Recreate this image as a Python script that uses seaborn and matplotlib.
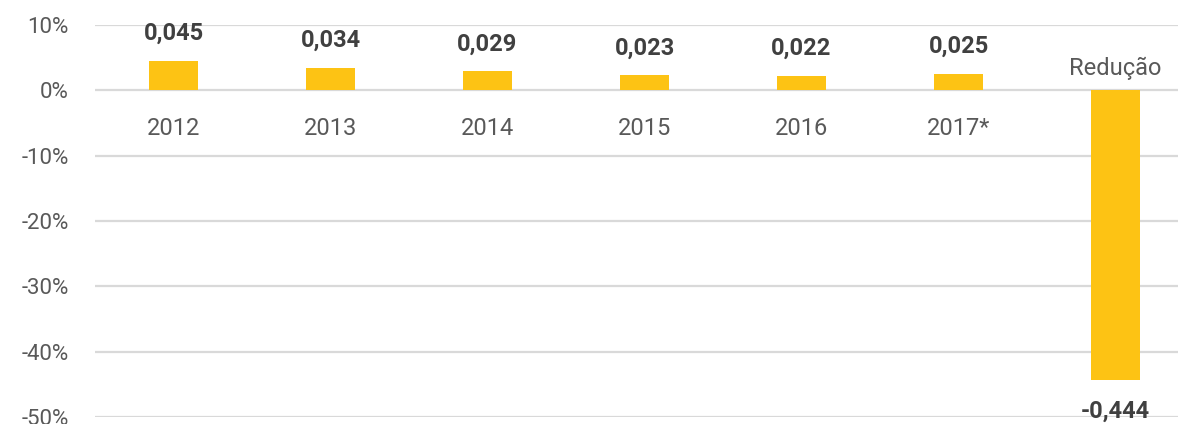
import numpy as np
import pandas as pd
import seaborn as sns
import matplotlib.pyplot as plt
from matplotlib.ticker import FuncFormatter

categories = ["2012", "2013", "2014", "2015", "2016", "2017*", "Redução"]
values = [0.045, 0.034, 0.029, 0.023, 0.022, 0.025, -0.444]
value_labels = ["0,045", "0,034", "0,029", "0,023", "0,022", "0,025", "-0,444"]

df = pd.DataFrame({"categoria": categories, "valor": [v * 100 for v in values]})

sns.set_style("white")
plt.rcParams["font.family"] = ["Roboto", "DejaVu Sans"]

fig = plt.figure(figsize=(11.78, 4.24), dpi=100)
ax = fig.add_axes([95 / 1178, 7 / 424, 1099 / 1178, 392 / 424])

sns.barplot(data=df, x="categoria", y="valor", color="#FDC314", saturation=1,
            width=0.31, linewidth=0, ax=ax)

ax.set_ylim(-50, 10)
ax.set_xlim(-0.5, 6.5)
ax.set_yticks(np.arange(-50, 11, 10))
ax.yaxis.set_major_formatter(FuncFormatter(lambda v, _: f"{v:.0f}%"))
ax.grid(axis="y", color="#D9D9D9", linewidth=1.6)
ax.set_axisbelow(True)
for s in ax.spines.values():
    s.set_visible(False)
ax.set_xticks([])
ax.set_xlabel("")
ax.set_ylabel("")
ax.tick_params(axis="y", length=0, pad=19, labelsize=16, labelcolor="#595959")

for i, (v, lab) in enumerate(zip(df["valor"], value_labels)):
    if v >= 0:
        ax.text(i, v + 4.2, lab, ha="center", va="center", fontsize=17,
                fontweight="bold", color="#404040")
        ax.text(i, -5.8, categories[i], ha="center", va="center", fontsize=17,
                color="#595959")
    else:
        ax.text(i, v - 4.7, lab, ha="center", va="center", fontsize=17,
                fontweight="bold", color="#404040", clip_on=False)
        ax.text(i, 3.4, categories[i], ha="center", va="center", fontsize=17,
                color="#595959")

fig.savefig("out.png", dpi=100)
